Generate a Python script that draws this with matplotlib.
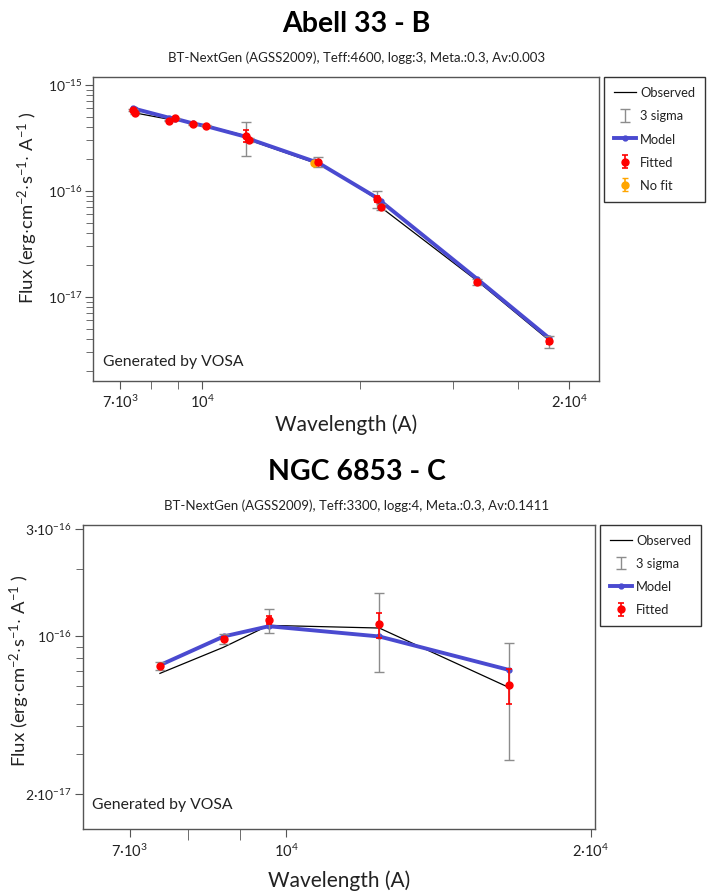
import matplotlib
matplotlib.use('Agg')
import matplotlib.pyplot as plt
from matplotlib.ticker import NullFormatter

plt.rcParams['font.family'] = ['Lato', 'DejaVu Sans']
plt.rcParams['mathtext.fontset'] = 'custom'
plt.rcParams['mathtext.rm'] = 'Lato'
plt.rcParams['mathtext.it'] = 'Lato:italic'
plt.rcParams['mathtext.bf'] = 'Lato:bold'

# --- Abell 33 - B ---
a_wl = [7394, 7460, 8640, 8897, 9626, 10168, 12110, 12285, 16600, 21500, 21890, 33380, 45760]
a_fit = [5.81e-16, 5.41e-16, 4.60e-16, 4.85e-16, 4.26e-16, 4.13e-16, 3.32e-16, 3.03e-16,
         1.89e-16, 8.41e-17, 7.03e-17, 1.38e-17, 3.80e-18]
a_err = [3e-18, 3e-18, 2e-18, 2e-18, 2e-18, 2e-18, 4.0e-17, 5e-18,
         6.8e-18, 5.0e-18, 1.5e-18, 3e-19, 1.7e-19]
a_nofit_wl = [16350]
a_nofit = [1.85e-16]
a_nofit_err = [3e-18]
a_model_wl = [7394, 7460, 8640, 8897, 9626, 10168, 12110, 12285, 16350, 16600, 21500, 21890, 33380, 45760]
a_model = [6.03e-16, 5.95e-16, 4.92e-16, 4.80e-16, 4.33e-16, 4.10e-16, 3.25e-16, 3.10e-16,
           1.90e-16, 1.86e-16, 8.65e-17, 8.0e-17, 1.48e-17, 4.09e-18]
a_obs_wl = [7394, 7460, 8640, 8897, 9626, 10168, 12110, 12285, 16350, 16600, 21500, 21890, 33380, 45760]
a_obs = [5.75e-16, 5.45e-16, 4.75e-16, 4.80e-16, 4.26e-16, 4.13e-16, 3.32e-16, 3.03e-16,
         1.85e-16, 1.89e-16, 8.41e-17, 7.03e-17, 1.42e-17, 3.90e-18]

# --- NGC 6853 - C ---
n_wl = [7500, 8670, 9610, 12360, 16620]
n_fit = [7.41e-17, 9.73e-17, 1.18e-16, 1.13e-16, 6.08e-17]
n_err = [1.0e-18, 1.7e-18, 4.8e-18, 1.45e-17, 1.08e-17]
n_model = [7.46e-17, 1.00e-16, 1.11e-16, 1.00e-16, 7.10e-17]
n_obs = [6.86e-17, 8.96e-17, 1.12e-16, 1.09e-16, 5.93e-17]

BLUE = '#4a4ad0'
GREY = '#8c8c8c'
TXT = '#222222'

fig = plt.figure(figsize=(7.13, 8.92), dpi=100)


def sed(ax, wl, fit, err, mwl, model, owl, obs, nofit=None, vosa_y=0.05):
    h_obs, = ax.plot(owl, obs, color='black', lw=0.9, zorder=2, label='Observed')
    h_mod, = ax.plot(mwl, model, color=BLUE, lw=2.8, marker='o', ms=3.5, zorder=3, label='Model')
    h_sig = ax.errorbar(wl, fit, yerr=[3 * e for e in err], fmt='none', ecolor=GREY,
                        elinewidth=1, capsize=3.5, capthick=1, zorder=4, label='3 sigma')
    h_fit = ax.errorbar(wl, fit, yerr=err, fmt='o', color='red', ms=5,
                        elinewidth=1.2, capsize=2.5, capthick=1.2, zorder=5, label='Fitted')
    handles = [h_obs, h_sig, h_mod, h_fit]
    if nofit is not None:
        h_nf = ax.errorbar(nofit[0], nofit[1], yerr=nofit[2], fmt='o', color='#ffa500', ms=5,
                           elinewidth=1.2, capsize=2.5, zorder=4.5, label='No fit')
        handles.append(h_nf)
    ax.set_xscale('log')
    ax.set_yscale('log')
    for s in ax.spines.values():
        s.set_color('#555555')
        s.set_linewidth(1)
    ax.tick_params(which='both', direction='out', colors='#555555', labelcolor=TXT,
                   labelsize=10.5, top=False, right=False)
    ax.tick_params(axis='y', labelsize=10, pad=2)
    ax.tick_params(which='major', length=6)
    ax.tick_params(which='minor', length=5)
    ax.text(0.018, vosa_y, 'Generated by VOSA', transform=ax.transAxes, fontsize=11.3, color=TXT)
    ax.set_ylabel(r'Flux (erg$\cdot$cm$^{-2}$$\cdot$s$^{-1}$$\cdot$ A$^{-1}$ )', fontsize=13.3,
                  color=TXT)
    leg = ax.legend(handles=handles, loc='upper left', bbox_to_anchor=(1.01, 1.0),
                    borderaxespad=0, fontsize=9.3, frameon=True, fancybox=False,
                    edgecolor='black', handlelength=1.7, handletextpad=0.35,
                    labelspacing=0.85, borderpad=0.75, handleheight=1.0)
    leg.get_frame().set_linewidth(1)
    for t in leg.get_texts():
        t.set_color(TXT)
    return ax


def sup(s):
    return r'$\mathregular{' + s + '}$'


# top panel
ax1 = fig.add_axes([0.1311, 0.5732, 0.7088, 0.3401])
sed(ax1, a_wl, a_fit, a_err, a_model_wl, a_model, a_obs_wl, a_obs,
    nofit=(a_nofit_wl, a_nofit, a_nofit_err), vosa_y=0.05)
ax1.set_xlim(6220, 56900)
ax1.set_ylim(1.62e-18, 1.18e-15)
ax1.set_xticks([7000, 10000, 50000], [sup('7·10^3'), sup('10^4'), sup('2·10^4')])
ax1.set_xticks([8000, 9000, 20000, 30000, 40000], minor=True)
ax1.xaxis.set_minor_formatter(NullFormatter())
ax1.tick_params(axis='x', which='minor', length=6)
ax1.set_yticks([1e-15, 1e-16, 1e-17], [sup('10^{-15}'), sup('10^{-16}'), sup('10^{-17}')])
ax1.set_yticks([k * d for d in (1e-16, 1e-17, 1e-18) for k in range(2, 10)], minor=True)
ax1.yaxis.set_minor_formatter(NullFormatter())
ax1.set_ylim(1.62e-18, 1.18e-15)
ax1.set_xlabel('Wavelength (A)', fontsize=15, color=TXT, labelpad=2)
ax1.yaxis.set_label_coords(-0.106, 0.57)

# bottom panel
ax2 = fig.add_axes([0.116, 0.0706, 0.7184, 0.3408])
sed(ax2, n_wl, n_fit, n_err, n_wl, n_model, n_wl, n_obs, vosa_y=0.065)
ax2.set_xlim(6290, 20200)
ax2.set_ylim(1.40e-17, 3.12e-16)
ax2.set_xticks([7000, 10000, 20000], [sup('7·10^3'), sup('10^4'), sup('2·10^4')])
ax2.set_xticks([8000, 9000], minor=True)
ax2.xaxis.set_minor_formatter(NullFormatter())
ax2.tick_params(axis='x', which='minor', length=8)
ax2.set_yticks([3e-16, 1e-16, 2e-17], [sup('3·10^{-16}'), sup('10^{-16}'), sup('2·10^{-17}')])
ax2.set_yticks([2e-16, 9e-17, 8e-17, 7e-17, 6e-17, 5e-17, 4e-17, 3e-17], minor=True)
ax2.yaxis.set_minor_formatter(NullFormatter())
ax2.set_xlabel('Wavelength (A)', fontsize=15, color=TXT, labelpad=8)
ax2.yaxis.set_label_coords(-0.099, 0.52)

fig.text(0.5, 0.973, 'Abell 33 - B', ha='center', va='center', fontsize=20.5, fontweight='bold', color='black')
fig.text(0.5, 0.935, 'BT-NextGen (AGSS2009), Teff:4600, logg:3, Meta.:0.3, Av:0.003',
         ha='center', va='center', fontsize=9.5, color=TXT)
fig.text(0.5, 0.471, 'NGC 6853 - C', ha='center', va='center', fontsize=20.5, fontweight='bold', color='black')
fig.text(0.5, 0.433, 'BT-NextGen (AGSS2009), Teff:3300, logg:4, Meta.:0.3, Av:0.1411',
         ha='center', va='center', fontsize=9.5, color=TXT)

fig.savefig('out.png', dpi=100)
